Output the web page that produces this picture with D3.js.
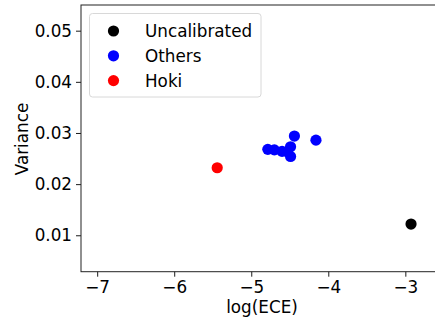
<!DOCTYPE html>
<html>
<head>
<meta charset="utf-8">
<script src="https://cdn.jsdelivr.net/npm/d3@7"></script>
<style>
  html, body { margin: 0; padding: 0; background: #fff; }
  svg { display: block; font-family: "DejaVu Sans", sans-serif; }
</style>
</head>
<body>
<svg id="chart" width="435" height="324"></svg>
<script>
// Series: log(ECE) against variance
const uncalibratedX = [-2.926];
const uncalibratedY = [0.0122];
const othersX = [-4.785, -4.70, -4.60, -4.53, -4.49, -4.49, -4.44, -4.16];
const othersY = [0.0268, 0.0267, 0.0264, 0.0263, 0.0273, 0.0254, 0.0294, 0.0286];
const hokiX = [-5.442];
const hokiY = [0.0232];

const xTicks = [-7, -6, -5, -4, -3];
const yTicks = [0.01, 0.02, 0.03, 0.04, 0.05];

const seriesNames = ["Uncalibrated", "Others", "Hoki"];
const seriesColors = ["#000000", "#0000ff", "#ff0000"];

const series = [
  { name: seriesNames[0], color: seriesColors[0], xs: uncalibratedX, ys: uncalibratedY },
  { name: seriesNames[1], color: seriesColors[1], xs: othersX, ys: othersY },
  { name: seriesNames[2], color: seriesColors[2], xs: hokiX, ys: hokiY }
];

const svg = d3.select("#chart");
const plotLeft = 81, plotTop = 5, plotRight = 440, plotBottom = 271.7;
const fontSize = 16.8;

const x = d3.scaleLinear().domain([-7.21, -2.55]).range([plotLeft, plotRight]);
const y = d3.scaleLinear().domain([0.00288, 0.05502]).range([plotBottom, plotTop]);

const fmtX = d3.format("d");
const fmtY = d3.format(".2f");

// Axes
const xAxis = svg.append("g")
  .attr("transform", `translate(0,${plotBottom})`)
  .call(d3.axisBottom(x).tickValues(xTicks).tickFormat(fmtX).tickSize(5).tickPadding(4).tickSizeOuter(0));
const yAxis = svg.append("g")
  .attr("transform", `translate(${plotLeft},0)`)
  .call(d3.axisLeft(y).tickValues(yTicks).tickFormat(fmtY).tickSize(5).tickPadding(4).tickSizeOuter(0));

[xAxis, yAxis].forEach(g => {
  g.selectAll("text").attr("font-size", fontSize).attr("fill", "#000")
    .attr("font-family", "DejaVu Sans, sans-serif");
  g.selectAll("line").attr("stroke", "#000").attr("stroke-width", 0.9);
  g.select(".domain").remove();
});

// Frame (left, top and bottom spines; right side runs off the canvas)
svg.append("rect")
  .attr("x", plotLeft).attr("y", plotTop)
  .attr("width", plotRight - plotLeft).attr("height", plotBottom - plotTop)
  .attr("fill", "none").attr("stroke", "#222").attr("stroke-width", 1);

// Points
series.forEach(s => {
  svg.append("g").selectAll("circle")
    .data(s.xs.map((v, i) => [v, s.ys[i]]))
    .join("circle")
    .attr("cx", d => x(d[0]))
    .attr("cy", d => y(d[1]))
    .attr("r", 5.6)
    .attr("fill", s.color);
});

// Axis titles
svg.append("text")
  .attr("x", 262).attr("y", 313)
  .attr("text-anchor", "middle").attr("font-size", fontSize).attr("fill", "#000")
  .text("log(ECE)");
svg.append("text")
  .attr("transform", `translate(28,${139}) rotate(-90)`)
  .attr("text-anchor", "middle").attr("font-size", fontSize).attr("fill", "#000")
  .text("Variance");

// Legend
const legend = svg.append("g");
legend.append("rect")
  .attr("x", 89.5).attr("y", 13.5).attr("width", 171.5).attr("height", 83.5)
  .attr("rx", 3).attr("fill", "#fff").attr("fill-opacity", 0.8)
  .attr("stroke", "#d8d8d8").attr("stroke-width", 1);
series.forEach((s, i) => {
  const cy = 31 + i * 24.8;
  legend.append("circle").attr("cx", 113.5).attr("cy", cy).attr("r", 5.6).attr("fill", s.color);
  legend.append("text").attr("x", 145).attr("y", cy + 6)
    .attr("font-size", fontSize).attr("fill", "#000").text(s.name);
});
</script>
</body>
</html>
